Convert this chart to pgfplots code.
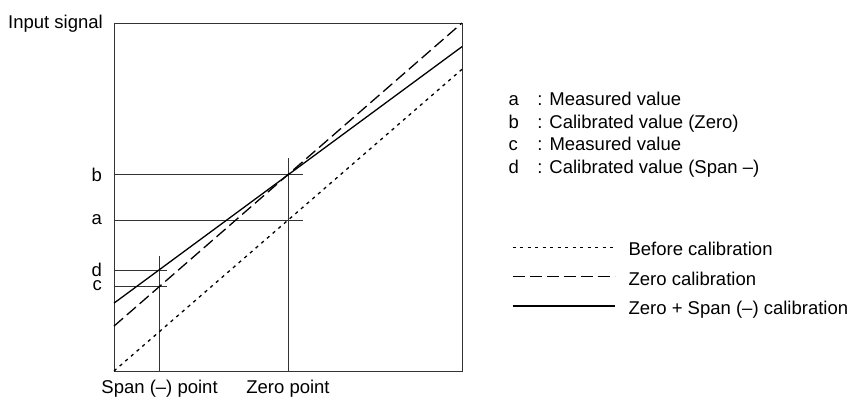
\documentclass[border=0pt]{standalone}
\usepackage{fontspec}
\setmainfont{Liberation Sans}
\usepackage{pgfplots}
\pgfplotsset{compat=1.18}
\begin{document}
\begin{tikzpicture}[x=1pt,y=1pt,font=\fontsize{18.5pt}{22pt}\selectfont]
\useasboundingbox (0,0) rectangle (851,400);
\begin{axis}[
  at={(114pt,29pt)}, anchor=south west,
  scale only axis, width=348pt, height=348pt,
  xmin=0, xmax=100, ymin=0, ymax=100,
  axis line style={draw=black!80, line width=0.8pt},
  clip=false,
  xtick={13.1,50}, xticklabels={Span (–) point, Zero point},
  ytick={24.4,29.0,43.4,56.4}, yticklabels={c,d,a,b},
  major tick length=0pt,
  xticklabel style={yshift=-6pt},
  yticklabel style={inner sep=0pt, xshift=-12pt},
  legend style={draw=none, fill=none, at={(axis description cs:1.143,0.366)}, anchor=north west,
    inner sep=0pt, row sep=13.4pt, nodes={inner sep=0pt, text height=12pt, text depth=4pt}},
  legend cell align=left,
  legend image code/.code={\path[draw=none] (0pt,4.5pt) -- (116pt,4.5pt);\draw[#1] (0pt,4.5pt) -- (102pt,4.5pt);},
]
% helper lines
\addplot[black!80, line width=0.8pt, forget plot] coordinates {(50,0) (50,61.1)};
\addplot[black!80, line width=0.8pt, forget plot] coordinates {(13.1,0) (13.1,33.0)};
\addplot[black!80, line width=0.8pt, forget plot] coordinates {(0,56.4) (54.2,56.4)};
\addplot[black!80, line width=0.8pt, forget plot] coordinates {(0,43.4) (54.2,43.4)};
\addplot[black!80, line width=0.8pt, forget plot] coordinates {(0,29.0) (15.1,29.0)};
\addplot[black!80, line width=0.8pt, forget plot] coordinates {(0,24.4) (15.1,24.4)};
% calibration lines
\addplot[black, line width=1.3pt, dash pattern=on 3.2pt off 4.3pt] coordinates {(0,0) (100,86.7)};
\addlegendentry{Before calibration}
\addplot[black, line width=1.3pt, dash pattern=on 12pt off 5pt] coordinates {(0,12.9) (100,100)};
\addlegendentry{Zero calibration}
\addplot[black, line width=1.3pt] coordinates {(0,19.5) (100,93.2)};
\addlegendentry{Zero + Span (–) calibration}
\node[anchor=base east, inner sep=0pt] at (rel axis cs:0,1) [xshift=-11pt, yshift=-5.5pt] {Input signal};
\end{axis}
\node[anchor=base west, inner sep=0pt, align=left, font=\fontsize{18.5pt}{22.5pt}\selectfont] at (508.3,226.7)
  {\makebox[29pt][l]{a}: Measured value\\
   \makebox[29pt][l]{b}: Calibrated value (Zero)\\
   \makebox[29pt][l]{c}: Measured value\\
   \makebox[29pt][l]{d}: Calibrated value (Span –)};
\end{tikzpicture}
\end{document}
